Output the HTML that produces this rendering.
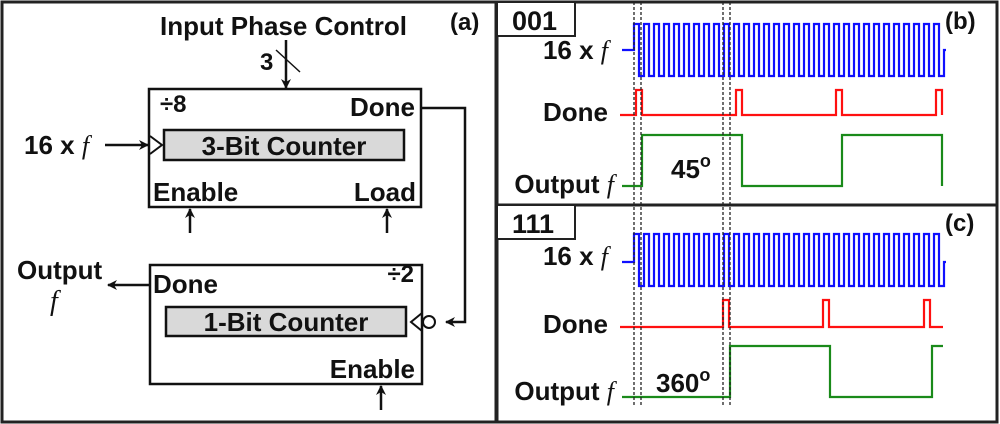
<!DOCTYPE html>
<html><head><meta charset="utf-8"><style>
html,body{margin:0;padding:0;background:#fff}
svg{display:block}
text{font-family:"Liberation Sans",sans-serif;font-weight:bold;fill:#111}
.it{font-family:"Liberation Serif",serif;font-style:italic;font-weight:normal}
</style></head><body>
<svg width="1000" height="424" viewBox="0 0 1000 424" xmlns="http://www.w3.org/2000/svg">
<defs>
<marker id="ar" markerWidth="10" markerHeight="10" refX="9" refY="5" orient="auto" markerUnits="userSpaceOnUse">
<path d="M0,0 L10,5 L0,10 L3,5 Z" fill="#111"/></marker>
</defs>
<rect x="2" y="2" width="494" height="420" fill="none" stroke="#222" stroke-width="3"/>
<rect x="497" y="2" width="500" height="203" fill="none" stroke="#222" stroke-width="3"/>
<rect x="497" y="205" width="500" height="217" fill="none" stroke="#222" stroke-width="3"/>
<rect x="497" y="2" width="78" height="34" fill="#fff" stroke="#222" stroke-width="2"/>
<rect x="497" y="205" width="78" height="34" fill="#fff" stroke="#222" stroke-width="2"/>
<text x="512" y="30" font-size="27">001</text>
<text x="512" y="233" font-size="27">111</text>
<text x="945" y="29" font-size="24">(b)</text>
<text x="945" y="231" font-size="24">(c)</text>
<text x="450" y="30" font-size="24" font-weight="normal">(a)</text>

<text x="160" y="35" font-size="26">Input Phase Control</text>
<line x1="286" y1="40" x2="286" y2="88" stroke="#111" stroke-width="2.5" marker-end="url(#ar)"/>
<line x1="276" y1="50" x2="300" y2="72" stroke="#111" stroke-width="1.5"/>
<text x="260" y="70" font-size="24">3</text>
<rect x="149" y="89" width="272" height="118" fill="#fff" stroke="#111" stroke-width="2.5"/>
<rect x="164" y="130" width="240" height="30" fill="#d9d9d9" stroke="#111" stroke-width="2.5"/>
<text x="284" y="155" font-size="26" text-anchor="middle">3-Bit Counter</text>
<text x="160" y="112" font-size="24">÷8</text>
<text x="415" y="116" font-size="26" text-anchor="end">Done</text>
<text x="153" y="201" font-size="26">Enable</text>
<text x="416" y="201" font-size="26" text-anchor="end">Load</text>
<polyline points="150,136 162,145 150,154" fill="none" stroke="#111" stroke-width="2"/>
<text x="24" y="154" font-size="26">16 x <tspan class="it">f</tspan></text>
<line x1="105" y1="145" x2="148" y2="145" stroke="#111" stroke-width="2.5" marker-end="url(#ar)"/>
<line x1="190" y1="233" x2="190" y2="209" stroke="#111" stroke-width="2.5" marker-end="url(#ar)"/>
<line x1="387" y1="233" x2="387" y2="209" stroke="#111" stroke-width="2.5" marker-end="url(#ar)"/>
<polyline points="421,108 465,108 465,322 446,322" fill="none" stroke="#111" stroke-width="2.5" marker-end="url(#ar)"/>

<rect x="150" y="265" width="272" height="119" fill="#fff" stroke="#111" stroke-width="2.5"/>
<rect x="166" y="307" width="240" height="29" fill="#d9d9d9" stroke="#111" stroke-width="2.5"/>
<text x="286" y="331" font-size="26" text-anchor="middle">1-Bit Counter</text>
<text x="153" y="293" font-size="26">Done</text>
<text x="414" y="282" font-size="24" text-anchor="end">÷2</text>
<text x="415" y="378" font-size="26" text-anchor="end">Enable</text>
<polyline points="422,313 411,322 422,331" fill="none" stroke="#111" stroke-width="2"/>
<circle cx="429" cy="322" r="6" fill="#fff" stroke="#111" stroke-width="2"/>
<line x1="150" y1="285" x2="108" y2="285" stroke="#111" stroke-width="2.5" marker-end="url(#ar)"/>
<text x="17" y="279" font-size="26">Output</text>
<text x="50" y="310" font-size="28" class="it">f</text>
<line x1="381" y1="410" x2="381" y2="386" stroke="#111" stroke-width="2.5" marker-end="url(#ar)"/>

<text x="608" y="59" font-size="26" text-anchor="end">16 x <tspan class="it">f</tspan></text>
<text x="608" y="121" font-size="26" text-anchor="end">Done</text>
<text x="614" y="193" font-size="26" text-anchor="end">Output <tspan class="it">f</tspan></text>
<text x="671" y="178" font-size="26">45<tspan dy="-11" font-size="18">o</tspan></text>
<text x="608" y="265" font-size="26" text-anchor="end">16 x <tspan class="it">f</tspan></text>
<text x="608" y="333" font-size="26" text-anchor="end">Done</text>
<text x="614" y="400" font-size="26" text-anchor="end">Output <tspan class="it">f</tspan></text>
<text x="656" y="392" font-size="26">360<tspan dy="-11" font-size="18">o</tspan></text>

<g id="waves" fill="none" stroke-width="2.2"></g>
<g stroke="#222" stroke-width="1.3" stroke-dasharray="3,2">
<line x1="634" y1="2" x2="634" y2="405"/><line x1="641" y1="2" x2="641" y2="405"/>
<line x1="723" y1="2" x2="723" y2="405"/><line x1="730" y1="2" x2="730" y2="405"/>
</g>
</svg>
<script>
(function(){
 var g=document.getElementById('waves');
 function pl(pts,col){var p=document.createElementNS('http://www.w3.org/2000/svg','polyline');p.setAttribute('points',pts);p.setAttribute('stroke',col);g.appendChild(p);}
 function clk(hi,lo,mid){var s='622,'+mid+' 634,'+mid;var x=634;
  while(x<935){s+=' '+x+','+hi+' '+(x+5)+','+hi+' '+(x+5)+','+lo+' '+(x+10)+','+lo;x+=10;}
  s+=' '+x+','+lo+' '+x+','+mid+' '+(x+2)+','+mid;pl(s,'#1010ff');}
 clk(24,76,50); clk(234,286,262);
 function done(base,hi,xs,end){var s='620,'+base;xs.forEach(function(x){s+=' '+x+','+base+' '+x+','+hi+' '+(x+6)+','+hi+' '+(x+6)+','+base;});s+=' '+end+','+base;pl(s,'#ff1010');}
 done(115,90,[636,736,836,936],942);
 done(327,300,[723,823,924],943);
 pl('622,186 642,186 642,135 742,135 742,186 842,186 842,135 942,135 942,186','#1a8a1a');
 pl('622,397 730,397 730,346 830,346 830,397 932,397 932,346 943,346','#1a8a1a');
})();
</script>
</body></html>
